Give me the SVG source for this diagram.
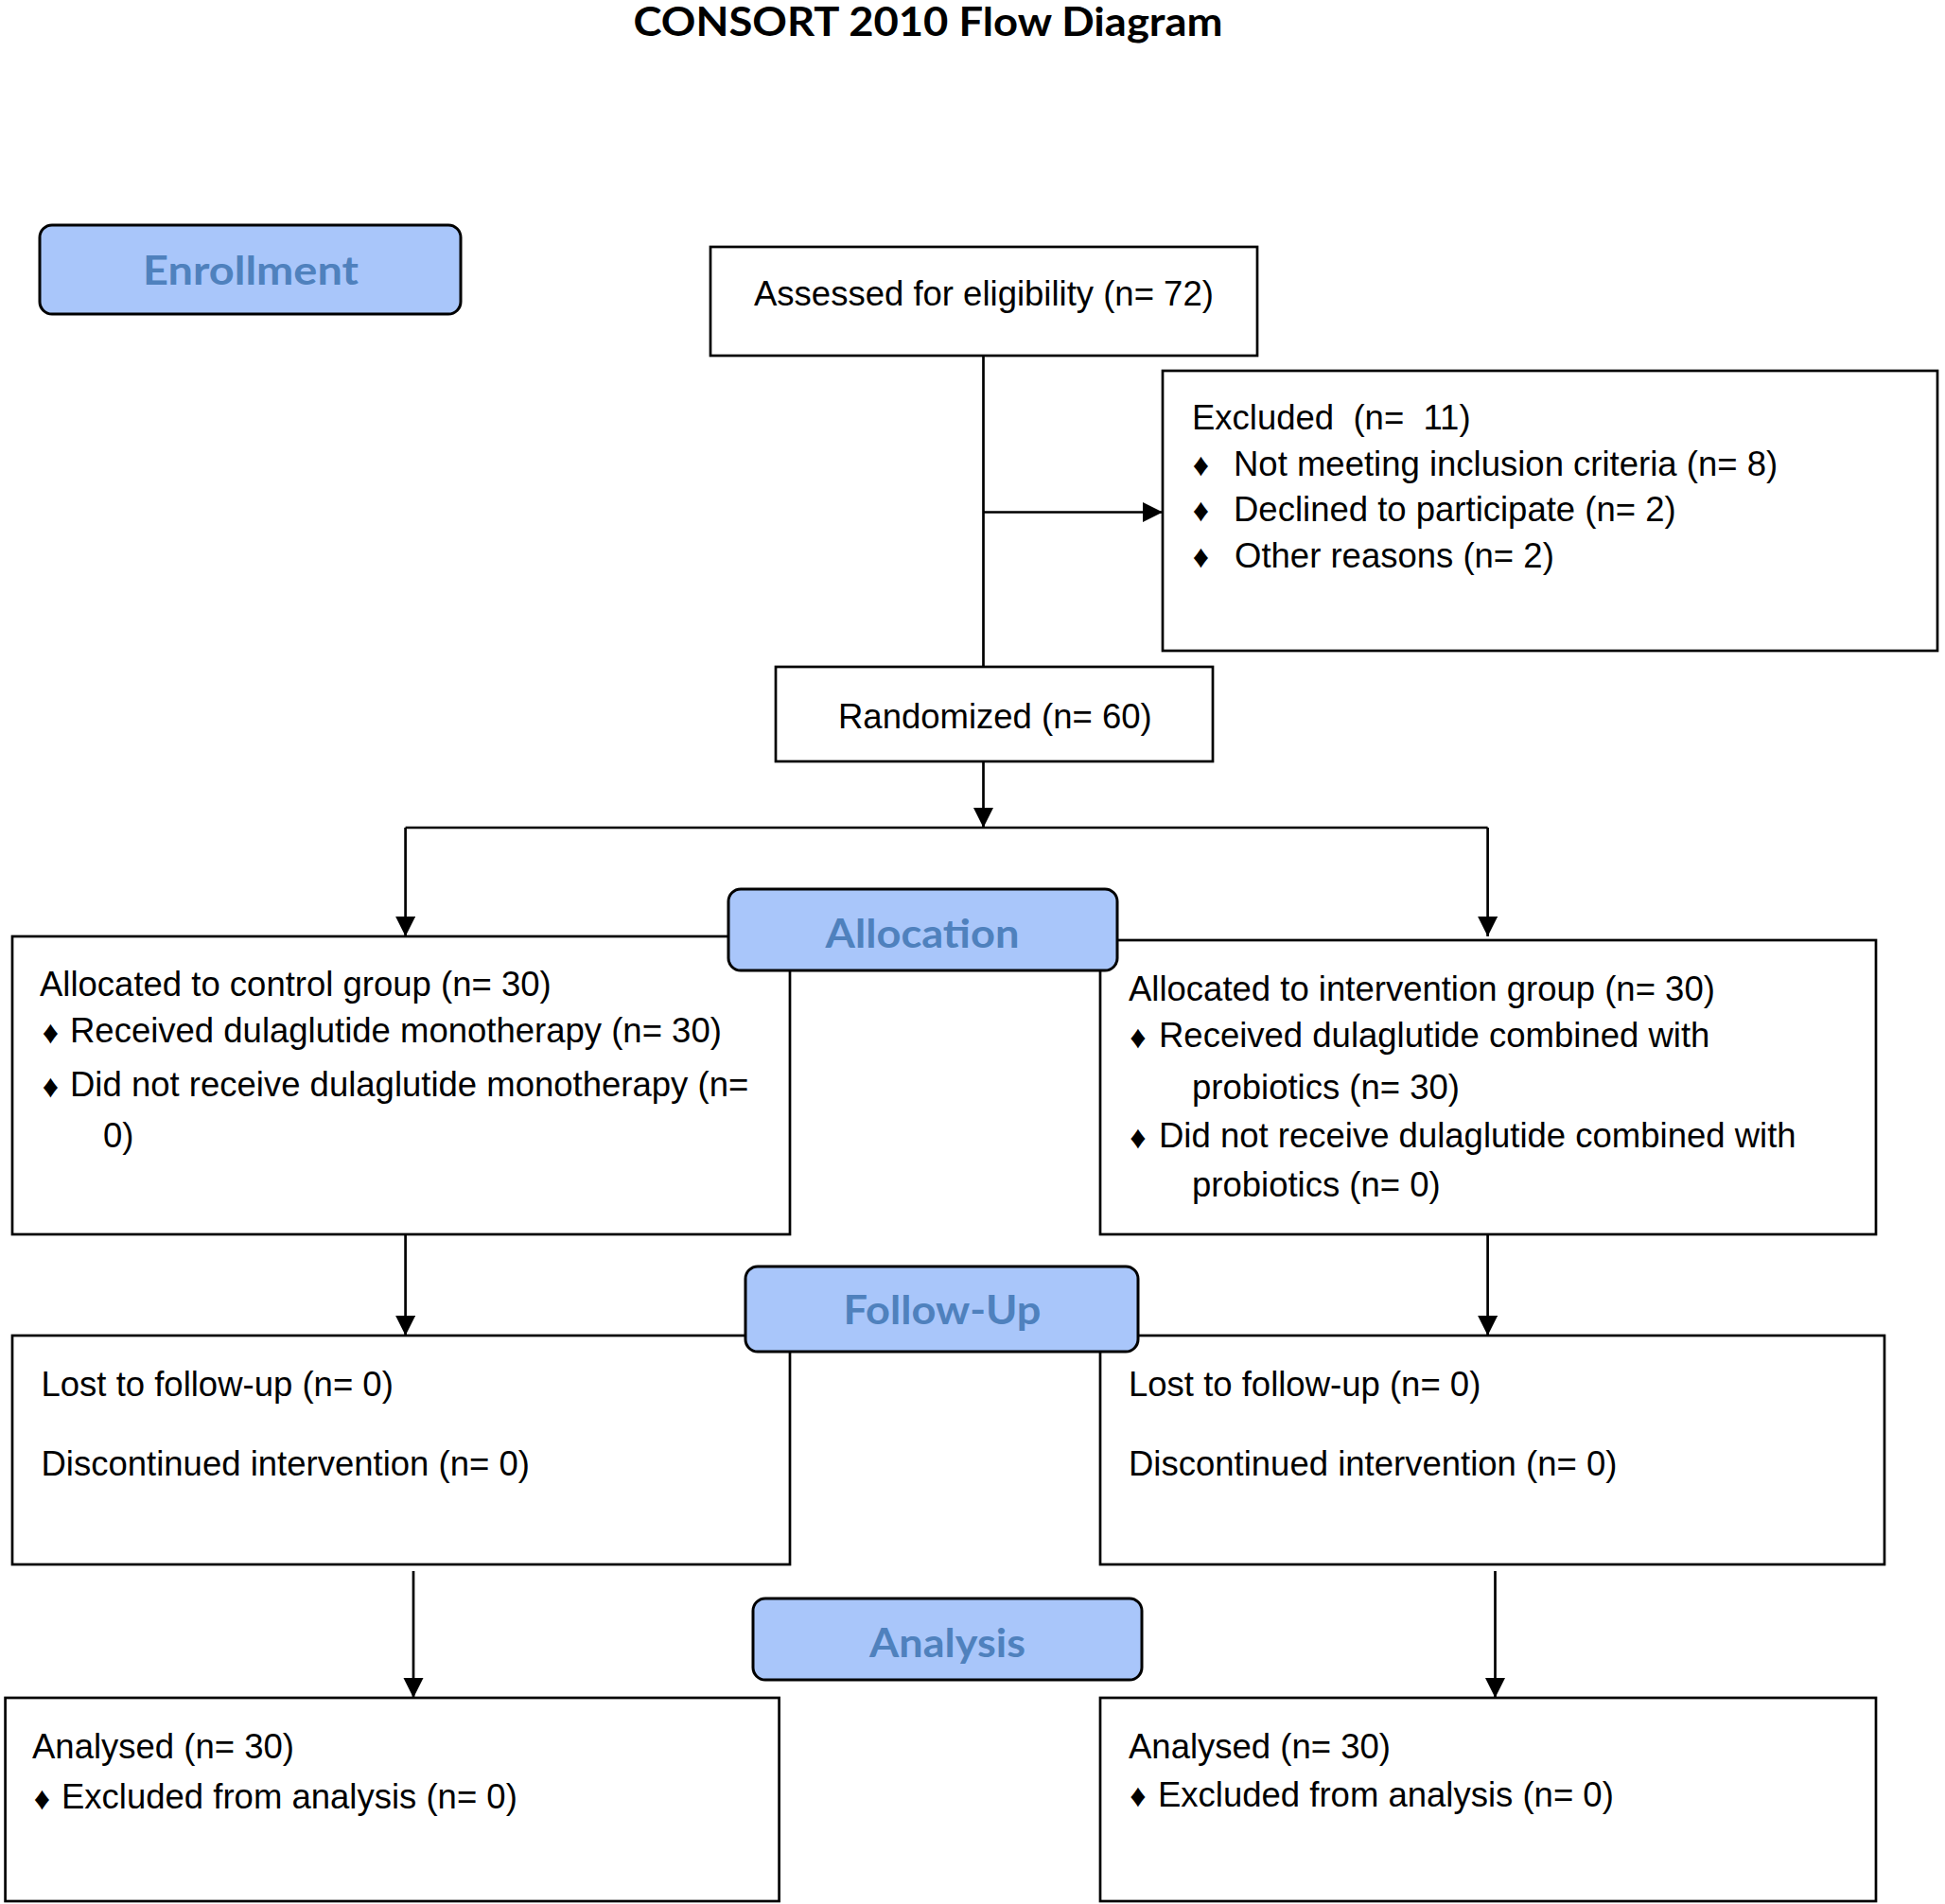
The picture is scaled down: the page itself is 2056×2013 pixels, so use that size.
<svg xmlns="http://www.w3.org/2000/svg" width="2056" height="2013" viewBox="0 0 2056 2013">
<defs>
<style>
.box{fill:#ffffff;stroke:#000000;stroke-width:2.7}
.lbl{fill:#a9c6fa;stroke:#000000;stroke-width:3}
.t{font-family:"Liberation Sans",Arial,sans-serif;font-size:36.5px;fill:#000000;white-space:pre}
.b{font-family:"Liberation Sans","DejaVu Sans",sans-serif;font-size:34px;fill:#000000;text-anchor:middle}
.lt{font-family:Lato,"Open Sans",sans-serif;font-weight:700;font-size:42px;fill:#4f81bd;text-anchor:middle}
.title{font-family:Lato,"Open Sans",sans-serif;font-weight:700;font-size:42px;fill:#000000;text-anchor:middle}
.ln{fill:none;stroke:#000000;stroke-width:2.7}
</style>
<marker id="ah" markerUnits="userSpaceOnUse" markerWidth="22" markerHeight="22" refX="21" refY="10.5" orient="auto">
<path d="M0,0 L21,10.5 L0,21 Z" fill="#000000"/>
</marker>
</defs>
<rect width="2056" height="2013" fill="#ffffff"/>
<text class="title" x="981" y="38" textLength="623" lengthAdjust="spacingAndGlyphs">CONSORT 2010 Flow Diagram</text>

<g id="connectors">
<line class="ln" x1="1039.5" y1="376" x2="1039.5" y2="705"/>
<line class="ln" x1="1039.5" y1="541.5" x2="1229" y2="541.5" marker-end="url(#ah)"/>
<line class="ln" x1="1039.5" y1="805" x2="1039.5" y2="875" marker-end="url(#ah)"/>
<line class="ln" x1="428.6" y1="875" x2="1572.6" y2="875"/>
<line class="ln" x1="428.6" y1="875" x2="428.6" y2="990" marker-end="url(#ah)"/>
<line class="ln" x1="1572.6" y1="875" x2="1572.6" y2="990" marker-end="url(#ah)"/>
<line class="ln" x1="428.6" y1="1305" x2="428.6" y2="1412" marker-end="url(#ah)"/>
<line class="ln" x1="1572.6" y1="1305" x2="1572.6" y2="1412" marker-end="url(#ah)"/>
<line class="ln" x1="437" y1="1661" x2="437" y2="1795" marker-end="url(#ah)"/>
<line class="ln" x1="1580.5" y1="1661" x2="1580.5" y2="1795" marker-end="url(#ah)"/>
</g>

<g id="enrollment">
<rect class="lbl" x="42" y="238" width="445" height="94" rx="13"/>
<text class="lt" x="265" y="301" textLength="228" lengthAdjust="spacingAndGlyphs">Enrollment</text>
</g>

<g id="assessed">
<rect class="box" x="751" y="261" width="578" height="115"/>
<text class="t" x="797" y="323">Assessed for eligibility (n= 72)</text>
</g>

<g id="excluded">
<rect class="box" x="1229" y="392" width="819" height="296"/>
<text class="t" x="1260" y="454">Excluded  (n=  11)</text>
<text class="b" x="1269.5" y="503">♦</text>
<text class="t" x="1304" y="503">Not meeting inclusion criteria (n= 8)</text>
<text class="b" x="1269.5" y="551">♦</text>
<text class="t" x="1304" y="551">Declined to participate (n= 2)</text>
<text class="b" x="1269.5" y="600">♦</text>
<text class="t" x="1305" y="600">Other reasons (n= 2)</text>
</g>

<g id="randomized">
<rect class="box" x="820" y="705" width="462" height="100"/>
<text class="t" x="886" y="770">Randomized (n= 60)</text>
</g>

<g id="control-allocation">
<rect class="box" x="13" y="990" width="822" height="315"/>
<text class="t" x="42" y="1053">Allocated to control group (n= 30)</text>
<text class="b" x="53.5" y="1103">♦</text>
<text class="t" x="74" y="1102">Received dulaglutide monotherapy (n= 30)</text>
<text class="b" x="53.5" y="1160">♦</text>
<text class="t" x="74" y="1159">Did not receive dulaglutide monotherapy (n=</text>
<text class="t" x="109" y="1213">0)</text>
</g>

<g id="intervention-allocation">
<rect class="box" x="1163" y="994" width="820" height="311"/>
<text class="t" x="1193" y="1058">Allocated to intervention group (n= 30)</text>
<text class="b" x="1203" y="1108">♦</text>
<text class="t" x="1225" y="1107">Received dulaglutide combined with</text>
<text class="t" x="1260" y="1162">probiotics (n= 30)</text>
<text class="b" x="1203" y="1214">♦</text>
<text class="t" x="1225" y="1213">Did not receive dulaglutide combined with</text>
<text class="t" x="1260" y="1265">probiotics (n= 0)</text>
</g>

<g id="allocation">
<rect class="lbl" x="770" y="940" width="411" height="86" rx="13"/>
<text class="lt" x="975" y="1002" textLength="205" lengthAdjust="spacingAndGlyphs">Allocation</text>
</g>

<g id="control-followup">
<rect class="box" x="13" y="1412" width="822" height="242"/>
<text class="t" x="43.5" y="1476">Lost to follow-up (n= 0)</text>
<text class="t" x="43.5" y="1560">Discontinued intervention (n= 0)</text>
</g>

<g id="intervention-followup">
<rect class="box" x="1163" y="1412" width="829" height="242"/>
<text class="t" x="1193" y="1476">Lost to follow-up (n= 0)</text>
<text class="t" x="1193" y="1560">Discontinued intervention (n= 0)</text>
</g>

<g id="followup">
<rect class="lbl" x="788" y="1339" width="415" height="90" rx="13"/>
<text class="lt" x="996" y="1400" textLength="209" lengthAdjust="spacingAndGlyphs">Follow-Up</text>
</g>

<g id="analysis">
<rect class="lbl" x="796" y="1690" width="411" height="86" rx="13"/>
<text class="lt" x="1001.5" y="1752" textLength="165" lengthAdjust="spacingAndGlyphs">Analysis</text>
</g>

<g id="control-analysis">
<rect class="box" x="5.6" y="1795" width="818" height="215"/>
<text class="t" x="34" y="1859">Analysed (n= 30)</text>
<text class="b" x="44.5" y="1913">♦</text>
<text class="t" x="65" y="1912">Excluded from analysis (n= 0)</text>
</g>

<g id="intervention-analysis">
<rect class="box" x="1163" y="1795" width="820" height="215"/>
<text class="t" x="1193" y="1859">Analysed (n= 30)</text>
<text class="b" x="1203" y="1910">♦</text>
<text class="t" x="1224" y="1909.5">Excluded from analysis (n= 0)</text>
</g>
</svg>
